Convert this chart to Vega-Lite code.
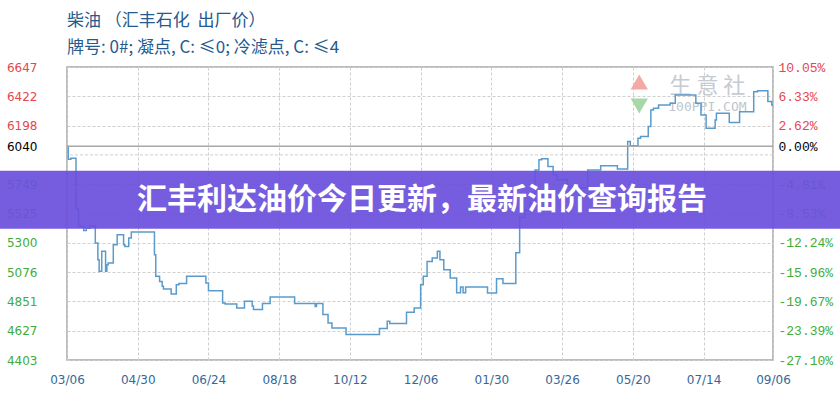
{
  "$schema": "https://vega.github.io/schema/vega-lite/v6.json",
  "width": 706,
  "height": 293,
  "autosize": {"type": "none"},
  "padding": {"left": 67, "top": 67, "right": 67, "bottom": 40},
  "background": "white",
  "config": {
    "view": {"stroke": "#a6a6a6", "strokeWidth": 1.5},
    "font": "DejaVu Sans",
    "axis": {"gridDash": [3, 2], "gridColor": "#cfcfcf", "gridWidth": 1, "domain": false, "ticks": false, "labelOverlap": false, "zindex": 0}
  },
  "title": {
    "text": "柴油 （汇丰石化\u00a0\u00a0出厂价）",
    "subtitle": "牌号: 0#; 凝点, C: ≤0; 冷滤点, C: ≤4",
    "anchor": "start",
    "frame": "group",
    "font": "Noto Sans CJK SC",
    "fontSize": 17,
    "fontWeight": "normal",
    "color": "#245a8e",
    "subtitleFont": "Noto Sans CJK SC",
    "subtitleFontSize": 17,
    "subtitleColor": "#245a8e",
    "subtitlePadding": 10,
    "offset": 4
  },
  "datasets": {
    "prices": [
      {"date": "2022/03/06", "price": 6040},
      {"date": "2022/03/07", "price": 5940},
      {"date": "2022/03/09", "price": 5948},
      {"date": "2022/03/13", "price": 5560},
      {"date": "2022/03/15", "price": 5426},
      {"date": "2022/03/19", "price": 5395},
      {"date": "2022/03/21", "price": 5414},
      {"date": "2022/03/24", "price": 5431},
      {"date": "2022/03/28", "price": 5299},
      {"date": "2022/03/30", "price": 5171},
      {"date": "2022/03/31", "price": 5082},
      {"date": "2022/04/02", "price": 5235},
      {"date": "2022/04/05", "price": 5082},
      {"date": "2022/04/06", "price": 5133},
      {"date": "2022/04/07", "price": 5146},
      {"date": "2022/04/11", "price": 5286},
      {"date": "2022/04/14", "price": 5362},
      {"date": "2022/04/19", "price": 5286},
      {"date": "2022/04/20", "price": 5273},
      {"date": "2022/04/23", "price": 5337},
      {"date": "2022/04/25", "price": 5383},
      {"date": "2022/05/13", "price": 5209},
      {"date": "2022/05/14", "price": 5044},
      {"date": "2022/05/17", "price": 5005},
      {"date": "2022/05/19", "price": 4967},
      {"date": "2022/05/20", "price": 4947},
      {"date": "2022/05/26", "price": 4909},
      {"date": "2022/05/30", "price": 4980},
      {"date": "2022/06/01", "price": 4988},
      {"date": "2022/06/07", "price": 5044},
      {"date": "2022/06/22", "price": 4993},
      {"date": "2022/06/24", "price": 4934},
      {"date": "2022/07/05", "price": 4840},
      {"date": "2022/07/07", "price": 4832},
      {"date": "2022/07/16", "price": 4802},
      {"date": "2022/07/22", "price": 4852},
      {"date": "2022/07/28", "price": 4817},
      {"date": "2022/07/29", "price": 4789},
      {"date": "2022/08/05", "price": 4835},
      {"date": "2022/08/11", "price": 4886},
      {"date": "2022/08/30", "price": 4835},
      {"date": "2022/09/15", "price": 4812},
      {"date": "2022/09/16", "price": 4835},
      {"date": "2022/09/21", "price": 4751},
      {"date": "2022/09/25", "price": 4687},
      {"date": "2022/09/28", "price": 4649},
      {"date": "2022/10/09", "price": 4598},
      {"date": "2022/11/04", "price": 4644},
      {"date": "2022/11/10", "price": 4700},
      {"date": "2022/11/12", "price": 4682},
      {"date": "2022/11/25", "price": 4768},
      {"date": "2022/12/01", "price": 4802},
      {"date": "2022/12/06", "price": 4980},
      {"date": "2022/12/08", "price": 5044},
      {"date": "2022/12/11", "price": 5158},
      {"date": "2022/12/15", "price": 5184},
      {"date": "2022/12/19", "price": 5235},
      {"date": "2022/12/21", "price": 5171},
      {"date": "2022/12/24", "price": 5095},
      {"date": "2022/12/29", "price": 5031},
      {"date": "2023/01/03", "price": 4919},
      {"date": "2023/01/06", "price": 4962},
      {"date": "2023/01/08", "price": 4919},
      {"date": "2023/01/10", "price": 4962},
      {"date": "2023/01/27", "price": 4917},
      {"date": "2023/02/03", "price": 5026},
      {"date": "2023/02/08", "price": 4988},
      {"date": "2023/02/18", "price": 5225},
      {"date": "2023/02/21", "price": 5495},
      {"date": "2023/02/25", "price": 5550},
      {"date": "2023/03/01", "price": 5603},
      {"date": "2023/03/05", "price": 5859},
      {"date": "2023/03/08", "price": 5936},
      {"date": "2023/03/10", "price": 5944},
      {"date": "2023/03/15", "price": 5885},
      {"date": "2023/03/19", "price": 5821},
      {"date": "2023/03/22", "price": 5783},
      {"date": "2023/03/30", "price": 5732},
      {"date": "2023/04/03", "price": 5720},
      {"date": "2023/04/15", "price": 5859},
      {"date": "2023/04/25", "price": 5890},
      {"date": "2023/05/08", "price": 5865},
      {"date": "2023/05/16", "price": 6076},
      {"date": "2023/05/18", "price": 6043},
      {"date": "2023/05/24", "price": 6102},
      {"date": "2023/05/26", "price": 6114},
      {"date": "2023/06/01", "price": 6191},
      {"date": "2023/06/03", "price": 6318},
      {"date": "2023/06/05", "price": 6331},
      {"date": "2023/06/09", "price": 6356},
      {"date": "2023/06/18", "price": 6369},
      {"date": "2023/06/22", "price": 6433},
      {"date": "2023/07/08", "price": 6369},
      {"date": "2023/07/12", "price": 6280},
      {"date": "2023/07/16", "price": 6178},
      {"date": "2023/07/23", "price": 6242},
      {"date": "2023/07/24", "price": 6293},
      {"date": "2023/08/03", "price": 6221},
      {"date": "2023/08/11", "price": 6305},
      {"date": "2023/08/22", "price": 6458},
      {"date": "2023/08/25", "price": 6466},
      {"date": "2023/09/02", "price": 6382},
      {"date": "2023/09/05", "price": 6356},
      {"date": "2023/09/06", "price": 6356}
    ],
    "base": [{"base": 6040}],
    "extraGrid": [{"level": 5973.8}],
    "banner": [{"start": "2021/12/01", "end": "2024/01/01", "top": 5852, "bottom": 5408}],
    "bannerText": [{"date": "2022/12/07", "price": 5630, "label": "汇丰利达油价今日更新，最新油价查询报告"}],
    "logoUp": [{"date": "2023/05/25", "price": 6532}],
    "logoDown": [{"date": "2023/05/25", "price": 6349}],
    "wmName": [{"date": "2023/07/17", "price": 6502, "label": "生 意 社"}],
    "wmSite": [{"date": "2023/07/17", "price": 6338, "label": "100PPI.COM"}]
  },
  "layer": [
    {
      "layer": [
        {
          "data": {"name": "extraGrid"},
          "mark": {"type": "rule", "color": "#cfcfcf", "strokeWidth": 1, "strokeDash": [3, 2]},
          "encoding": {
            "y": {"field": "level", "type": "quantitative", "title": null, "scale": {"domain": [4403, 6647], "nice": false, "zero": false}}
          }
        },
        {
          "data": {"name": "logoUp"},
          "mark": {"type": "point", "shape": "triangle-up", "filled": true, "size": 300, "color": "#f3aaa4", "opacity": 1},
          "encoding": {
            "x": {"field": "date", "type": "temporal", "title": null, "scale": {"domain": [{"year": 2022, "month": 3, "date": 6}, {"year": 2023, "month": 9, "date": 6}]}},
            "y": {"field": "price", "type": "quantitative", "title": null, "scale": {"domain": [4403, 6647], "nice": false, "zero": false}}
          }
        },
        {
          "data": {"name": "logoDown"},
          "mark": {"type": "point", "shape": "triangle-down", "filled": true, "size": 300, "color": "#a8d8a8", "opacity": 1},
          "encoding": {
            "x": {"field": "date", "type": "temporal", "title": null, "scale": {"domain": [{"year": 2022, "month": 3, "date": 6}, {"year": 2023, "month": 9, "date": 6}]}},
            "y": {"field": "price", "type": "quantitative", "title": null, "scale": {"domain": [4403, 6647], "nice": false, "zero": false}}
          }
        },
        {
          "data": {"name": "wmName"},
          "mark": {"type": "text", "font": "Noto Sans CJK SC", "fontSize": 22, "color": "#c5cad3", "align": "center", "baseline": "middle"},
          "encoding": {
            "x": {"field": "date", "type": "temporal", "title": null, "scale": {"domain": [{"year": 2022, "month": 3, "date": 6}, {"year": 2023, "month": 9, "date": 6}]}},
            "y": {"field": "price", "type": "quantitative", "title": null, "scale": {"domain": [4403, 6647], "nice": false, "zero": false}},
            "text": {"field": "label"}
          }
        },
        {
          "data": {"name": "wmSite"},
          "mark": {"type": "text", "font": "DejaVu Sans Mono", "fontSize": 13, "color": "#c0c5cc", "align": "center", "baseline": "middle"},
          "encoding": {
            "x": {"field": "date", "type": "temporal", "title": null, "scale": {"domain": [{"year": 2022, "month": 3, "date": 6}, {"year": 2023, "month": 9, "date": 6}]}},
            "y": {"field": "price", "type": "quantitative", "title": null, "scale": {"domain": [4403, 6647], "nice": false, "zero": false}},
            "text": {"field": "label"}
          }
        },
        {
          "data": {"name": "prices"},
          "mark": {"type": "line", "interpolate": "step-after", "color": "#5a9bcb", "strokeWidth": 1.5},
          "encoding": {
            "x": {
              "field": "date", "type": "temporal", "title": null,
              "scale": {"domain": [{"year": 2022, "month": 3, "date": 6}, {"year": 2023, "month": 9, "date": 6}]},
              "axis": {
                "orient": "bottom",
                "values": [
                  {"year": 2022, "month": 3, "date": 6},
                  {"year": 2022, "month": 4, "date": 30},
                  {"year": 2022, "month": 6, "date": 24},
                  {"year": 2022, "month": 8, "date": 18},
                  {"year": 2022, "month": 10, "date": 12},
                  {"year": 2022, "month": 12, "date": 6},
                  {"year": 2023, "month": 1, "date": 30},
                  {"year": 2023, "month": 3, "date": 26},
                  {"year": 2023, "month": 5, "date": 20},
                  {"year": 2023, "month": 7, "date": 14},
                  {"year": 2023, "month": 9, "date": 6}
                ],
                "tickCount": 30,
                "format": "%m/%d",
                "grid": true,
                "labelPadding": 14,
                "labelOverlap": false,
                "labelFlush": false, "labelBound": false,
                "labelColor": "#35689a", "labelFont": "DejaVu Sans", "labelFontSize": 12
              }
            },
            "y": {
              "field": "price", "type": "quantitative", "title": null,
              "scale": {"domain": [4403, 6647], "nice": false, "zero": false},
              "axis": {
                "orient": "left",
                "values": [6647, 6422.6, 6198.2, 6040, 5749.4, 5525, 5300.6, 5076.2, 4851.8, 4627.4, 4403],
                "tickCount": 30,
                "labelExpr": "'' + floor(datum.value)",
                "grid": true,
                "labelPadding": 30,
                "labelOverlap": false,
                "labelFont": "DejaVu Sans", "labelFontSize": 12,
                "labelColor": {"condition": [{"test": "datum.value > 6040.5", "value": "#e4474f"}, {"test": "datum.value < 6039.5", "value": "#3fac3b"}], "value": "#000000"}
              }
            }
          }
        },
        {
          "data": {"name": "banner"},
          "mark": {"type": "rect", "color": "#6a4fdc", "opacity": 0.92},
          "encoding": {
            "x": {"field": "start", "type": "temporal", "title": null, "scale": {"domain": [{"year": 2022, "month": 3, "date": 6}, {"year": 2023, "month": 9, "date": 6}]}},
            "x2": {"field": "end"},
            "y": {"field": "top", "type": "quantitative", "title": null, "scale": {"domain": [4403, 6647], "nice": false, "zero": false}},
            "y2": {"field": "bottom"}
          }
        },
        {
          "data": {"name": "bannerText"},
          "mark": {"type": "text", "font": "Noto Sans CJK SC", "fontSize": 30, "fontWeight": "bold", "color": "#ffffff", "align": "center", "baseline": "middle"},
          "encoding": {
            "x": {"field": "date", "type": "temporal", "title": null, "scale": {"domain": [{"year": 2022, "month": 3, "date": 6}, {"year": 2023, "month": 9, "date": 6}]}},
            "y": {"field": "price", "type": "quantitative", "title": null, "scale": {"domain": [4403, 6647], "nice": false, "zero": false}},
            "text": {"field": "label"}
          }
        }
      ]
    },
    {
      "data": {"name": "base"},
      "mark": {"type": "rule", "color": "#a8a8a8", "strokeWidth": 1.5},
      "encoding": {
        "y": {
          "field": "base", "type": "quantitative", "title": null,
          "scale": {"domain": [4403, 6647], "nice": false, "zero": false},
          "axis": {
            "orient": "right",
            "values": [6647, 6422.6, 6198.2, 6040, 5749.4, 5525, 5300.6, 5076.2, 4851.8, 4627.4, 4403],
            "tickCount": 30,
            "labelExpr": "(datum.value < 6039.5 ? '-' : '') + format(abs(datum.value/6040-1), '.2%')",
            "grid": false, "labelPadding": 5,
            "labelOverlap": false,
            "labelFont": "Liberation Mono", "labelFontSize": 13,
            "labelColor": {"condition": [{"test": "datum.value > 6040.5", "value": "#e4474f"}, {"test": "datum.value < 6039.5", "value": "#3fac3b"}], "value": "#000000"}
          }
        }
      }
    }
  ],
  "resolve": {"scale": {"y": "independent"}, "axis": {"y": "independent"}}
}
